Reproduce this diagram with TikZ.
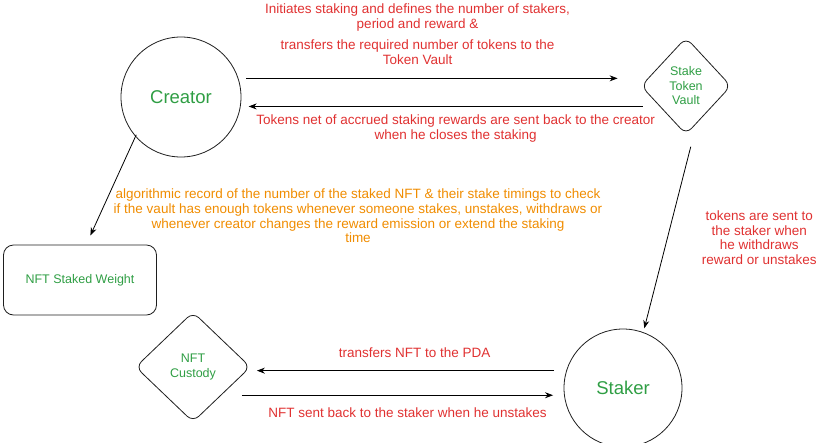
\documentclass[tikz,border=0pt]{standalone}
\usepackage{fontspec}
\setmainfont{Liberation Sans}
\usetikzlibrary{shapes.geometric,arrows.meta}
\definecolor{ink}{HTML}{1E1E1E}
\definecolor{inkred}{HTML}{E03131}
\definecolor{inkgreen}{HTML}{2F9E44}
\definecolor{inkorange}{HTML}{F08C00}

\begin{document}
\begin{tikzpicture}[x=1pt,y=-1pt,line width=0.8pt,>={Stealth[length=8pt,width=6pt]},
  lbl/.style={text=inkred,align=center,font=\fontsize{13.5}{14.7}\selectfont},
  note/.style={text=inkorange,align=center,font=\fontsize{13.5}{14.7}\selectfont},
  boxtxt/.style={text=inkgreen,align=center,font=\fontsize{12.5}{14.5}\selectfont},
  bigtxt/.style={text=inkgreen,font=\fontsize{18.5}{20}\selectfont}]
\useasboundingbox (0,0) rectangle (818,442);

\node[shape = circle,draw=ink,minimum size=120pt,bigtxt](creator) at (181,97) {Creator};
\node[shape = diamond,draw=ink,rounded corners=8pt,minimum width=90pt,minimum height=97pt,inner sep=0pt,boxtxt](vault) at (686,86) {Stake\\Token\\Vault};
\node[shape = rectangle,draw=ink,rounded corners=10pt,minimum width=153pt,minimum height=70pt,boxtxt](weight) at (80,280) {NFT Staked Weight};
\node[shape = diamond,draw=ink,rounded corners=8pt,minimum width=115pt,minimum height=110pt,inner sep=0pt,boxtxt](custody) at (193,367) {NFT\\Custody};
\node[shape = circle,draw=ink,minimum size=118pt,bigtxt](staker) at (623,388) {Staker};

\node[note](record) at (358,216) {algorithmic record of the number of the staked NFT \& their stake timings to check\\if the vault has enough tokens whenever someone stakes, unstakes, withdraws or\\whenever creator changes the reward emission or extend the staking\\time};

\path [->] (creator.18) edge[shorten <=8pt,shorten >=23pt] node[lbl,anchor=south,yshift=10pt,xshift=-22pt] {Initiates staking and defines the number of stakers,\\period and reward \&\\[7pt]transfers the required number of tokens to the\\Token Vault} (creator.18 -| vault.west);
\path [->] (creator.-9 -| vault.west) edge[shorten <=-2pt,shorten >=8pt] node[lbl,anchor=north,yshift=-5pt,xshift=15pt] {Tokens net of accrued staking rewards are sent back to the creator\\when he closes the staking} (creator.-9);
\path [->] (creator.221) edge[shorten <=-2pt,shorten >=10pt] (weight.80);
\path [->] (vault.-74) edge[shorten <=24pt,shorten >=4pt] node[lbl,anchor=west,xshift=28pt,yshift=-10pt] {tokens are sent to\\the staker when\\he withdraws\\reward or unstakes} (staker.70);
\path [->] (staker.163) edge[shorten <=12pt,shorten >=6pt] node[lbl,anchor=south,yshift=9pt,xshift=6pt] {transfers NFT to the PDA} (staker.163 -| custody.east);
\path [->] (staker.187 -| custody.east) edge[shorten <=-9pt,shorten >=11pt] node[lbl,anchor=north,yshift=-9pt] {NFT sent back to the staker when he unstakes} (staker.187);
\end{tikzpicture}
\end{document}
